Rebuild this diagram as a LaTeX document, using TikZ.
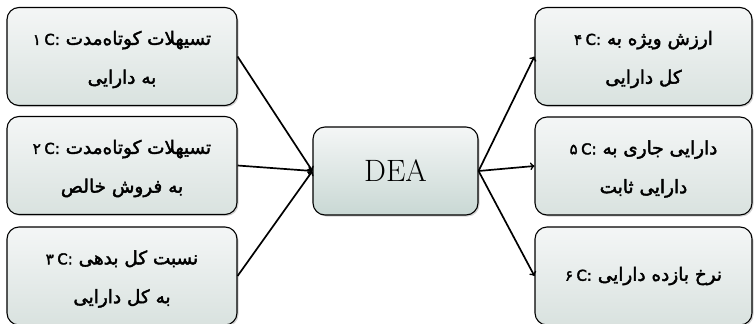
\documentclass[tikz,border=0pt]{standalone}
\usepackage{fontspec}
\usetikzlibrary{shadows,arrows}
\TeXXeTstate=1
\newfontfamily\farsifont[Script=Arabic,FakeBold=2.2]{DejaVu Sans}
\definecolor{boxtop}{HTML}{F4F6F6}
\definecolor{boxbot}{HTML}{D9E2DF}
\definecolor{deabot}{HTML}{C9D8D4}
\newcommand{\critno}[1]{{\fontsize{15}{39}\selectfont\mbox{#1}\hspace{3.5bp}\mbox{C:}}}
\newcommand{\twolines}[2]{\begin{tabular}{@{}c@{}}#1\\#2\end{tabular}}

\begin{document}
\begin{tikzpicture}[x=1bp,y=1bp,
  crit/.style={draw,line width=1.1pt,rounded corners=12bp,top color=boxtop,bottom color=boxbot,
    drop shadow={shadow xshift=1.5bp,shadow yshift=-1.5bp,opacity=0.35},
    minimum height=98bp,inner sep=2bp,
    font=\farsifont\fontsize{18.5}{39}\selectfont},
  link/.style={line width=1.7pt,-to}]
\useasboundingbox (0,0) rectangle (754,323);
\node[crit,minimum width=230bp] (c1) at (122,266.5)
  {\twolines{\critno{۱} \beginR تسیهلات کوتاه‌مدت\endR}{\beginR به دارایی\endR}};
\node[crit,minimum width=230bp] (c2) at (122,157.5)
  {\twolines{\critno{۲} \beginR تسیهلات کوتاه‌مدت\endR}{\beginR به فروش خالص\endR}};
\node[crit,minimum width=230bp] (c3) at (122,47)
  {\twolines{\critno{۳} \beginR نسبت کل بدهی\endR}{\beginR به کل دارایی\endR}};
\node[crit,minimum width=217bp] (c4) at (643.5,266.5)
  {\twolines{\critno{۴} \beginR ارزش ویژه به\endR}{\beginR کل دارایی\endR}};
\node[crit,minimum width=217bp] (c5) at (643.5,157)
  {\twolines{\critno{۵} \beginR دارایی جاری به\endR}{\beginR دارایی ثابت\endR}};
\node[crit,minimum width=217bp] (c6) at (643.5,47)
  {\critno{۶} \beginR نرخ بازده دارایی\endR};
\node[crit,minimum width=165bp,minimum height=88bp,bottom color=deabot,
  font=\fontsize{31}{33}\selectfont] (dea) at (395.5,152) {DEA};
\draw[link] (c1.east) -- (dea.west);
\draw[link] (c2.east) -- (dea.west);
\draw[link] (c3.east) -- (dea.west);
\draw[link] (dea.east) -- (c4.west);
\draw[link] (dea.east) -- (c5.west);
\draw[link] (dea.east) -- (c6.west);
\end{tikzpicture}
\end{document}
